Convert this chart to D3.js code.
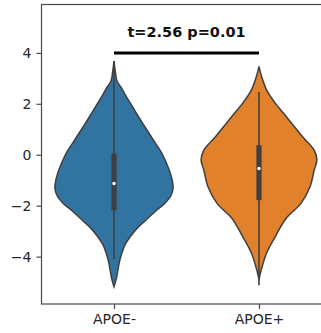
<!DOCTYPE html>
<html>
<head>
<meta charset="utf-8">
<script src="https://cdn.jsdelivr.net/npm/d3@7"></script>
<style>
  body { margin: 0; background: #fff; }
  svg { display: block; font-family: "DejaVu Sans", sans-serif; }
</style>
</head>
<body>
<svg id="chart" width="321" height="333"></svg>
<script>
// groups
var groups = ["APOE-", "APOE+"];
var groupColors = ["#3274a1", "#e1812c"];

// kde outline: value level and relative density
var levelsNeg = [3.68, 3.3, 2.9, 2.6, 2.3, 2.0, 1.6, 1.15, 0.6, 0.05, -0.6, -1.0, -1.3, -1.6, -1.9, -2.2, -2.57, -2.9, -3.22, -3.55, -3.87, -4.2, -4.53, -4.85, -5.18];
var densityNeg = [0, 0.02, 0.05, 0.13, 0.2, 0.28, 0.38, 0.5, 0.65, 0.8, 0.92, 0.97, 0.985, 0.95, 0.85, 0.7, 0.53, 0.38, 0.27, 0.18, 0.13, 0.09, 0.065, 0.04, 0];
var levelsPos = [3.47, 3.1, 2.53, 2.0, 1.6, 1.22, 0.7, 0.18, -0.2, -0.6, -1.26, -1.91, -2.5, -3.22, -3.87, -4.5, -4.9];
var densityPos = [0, 0.04, 0.13, 0.28, 0.42, 0.55, 0.73, 0.92, 0.965, 0.92, 0.85, 0.7, 0.45, 0.27, 0.125, 0.04, 0];

// inner box: lower whisker, q1, median, q3, upper whisker
var boxNeg = [-4.1, -2.18, -1.13, 0.05, 3.68];
var boxPos = [-5.12, -1.78, -0.54, 0.37, 2.46];

var yTicks = [-4, -2, 0, 2, 4];
var statText = "t=2.56 p=0.01";
var statLevel = 4;

var svg = d3.select("#chart");
var ink = "#3f3f3f";

var x = d3.scaleLinear().domain([-0.5, 1.5]).range([41.5, 331.5]);
var y = d3.scaleLinear().domain([-5.86, 5.9]).range([304, 4.5]);
var w = d3.scaleLinear().domain([0, 1]).range([0, 60]);

var violins = [
  {levels: levelsNeg, dens: densityNeg, box: boxNeg},
  {levels: levelsPos, dens: densityPos, box: boxPos}
];

violins.forEach(function(v, i) {
  var cx = x(i);
  var pts = v.levels.map((lv, k) => ({v: lv, d: v.dens[k]}));
  var area = d3.area()
    .y(d => y(d.v))
    .x0(d => cx - w(d.d))
    .x1(d => cx + w(d.d))
    .curve(d3.curveCatmullRom);
  svg.append("path")
    .attr("d", area(pts))
    .attr("fill", groupColors[i])
    .attr("stroke", ink)
    .attr("stroke-width", 1.5);

  var b = v.box;
  svg.append("line")
    .attr("x1", cx).attr("x2", cx)
    .attr("y1", y(b[0])).attr("y2", y(b[4]))
    .attr("stroke", ink).attr("stroke-width", 1.6);
  svg.append("rect")
    .attr("x", cx - 2.6).attr("width", 5.2)
    .attr("y", y(b[3])).attr("height", y(b[1]) - y(b[3]))
    .attr("fill", ink);
  svg.append("circle")
    .attr("cx", cx).attr("cy", y(b[2])).attr("r", 1.7)
    .attr("fill", "#fff");
});

// spines
svg.append("rect")
  .attr("x", x(-0.5)).attr("y", y.range()[1])
  .attr("width", x(1.5) - x(-0.5)).attr("height", y.range()[0] - y.range()[1])
  .attr("fill", "none").attr("stroke", "#4a4a4a").attr("stroke-width", 1.2);

var yAxis = svg.append("g")
  .attr("transform", "translate(" + x(-0.5) + ",0)")
  .call(d3.axisLeft(y).tickValues(yTicks).tickSize(5).tickSizeOuter(0).tickPadding(5));
var xAxis = svg.append("g")
  .attr("transform", "translate(0," + y.range()[0] + ")")
  .call(d3.axisBottom(x).tickValues([0, 1]).tickFormat(i => groups[i]).tickSize(5).tickSizeOuter(0).tickPadding(5));

[yAxis, xAxis].forEach(function(ax) {
  ax.select(".domain").remove();
  ax.selectAll(".tick line").attr("stroke", "#4a4a4a").attr("stroke-width", 1.2);
  ax.selectAll(".tick text").attr("fill", "#262626")
    .style("font-size", "14px").style("font-family", "DejaVu Sans, sans-serif");
});

// annotation
svg.append("line")
  .attr("x1", x(0)).attr("x2", x(1))
  .attr("y1", y(statLevel)).attr("y2", y(statLevel))
  .attr("stroke", "#000").attr("stroke-width", 3);
svg.append("text")
  .attr("x", (x(0) + x(1)) / 2)
  .attr("y", 36.5)
  .attr("text-anchor", "middle")
  .style("font-size", "14.5px")
  .style("font-weight", "bold")
  .attr("fill", "#111")
  .text(statText);
</script>
</body>
</html>
